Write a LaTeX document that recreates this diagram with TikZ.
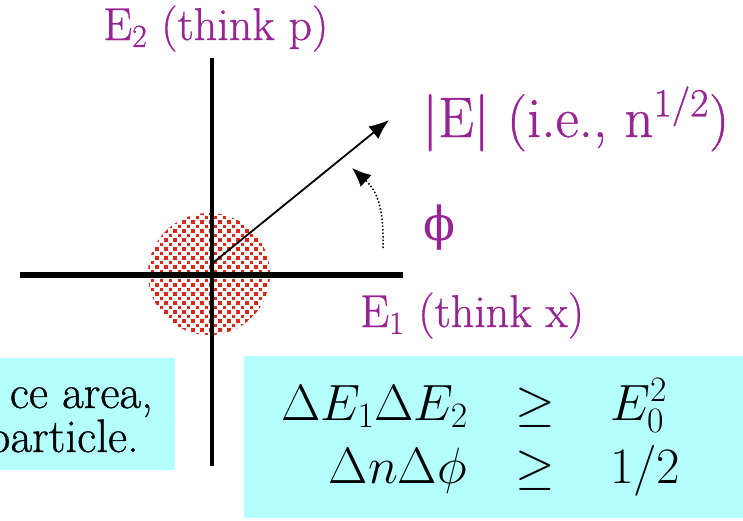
\RequirePackage{fix-cm}
\documentclass[tikz,border=0pt]{standalone}
\usepackage{amsmath,amssymb}
\usepackage{fontspec}
\newfontfamily\phifont{DejaVu Serif}
\newfontfamily\labfont{Latin Modern Roman}[FakeBold=0.7]
\usetikzlibrary{arrows.meta,calc}
\definecolor{labpurple}{RGB}{150,36,146}
\definecolor{boxcyan}{RGB}{180,255,255}
\definecolor{dotred}{RGB}{218,40,22}
\tikzset{
  axisline/.style={line width=4.6pt},
  plabel/.style={text=labpurple, inner sep=0pt, anchor=base west},
  mathtxt/.style={inner sep=0pt, font=\fontsize{51}{60}\selectfont},
}

\begin{document}
\begin{tikzpicture}[x=1pt,y=-1pt]
\path[use as bounding box, clip] (0,0) rectangle (743,520);

% cyan boxes at the bottom
\fill[boxcyan] (-10,358) rectangle (175,470);
\fill[boxcyan] (244,356) rectangle (750,518);

% uncertainty blob
\coordinate (C) at (209,274);
\begin{scope}
  \clip (C) circle (61);
  \foreach \i in {-7,...,7}
    \foreach \j in {-7,...,7} {
      \fill[dotred] ($(C)+(\i*9,\j*9)$) rectangle +(3.9,3.9);
      \fill[dotred] ($(C)+(\i*9+4.5,\j*9+4.5)$) rectangle +(3.9,3.9);
    }
\end{scope}

% axes
\coordinate (xl) at (20,275);
\coordinate (xr) at (403,275);
\coordinate (yt) at (212,58);
\coordinate (yb) at (212,466);
\draw[axisline, line width=5.4pt] (xl) -- (xr);
\draw[axisline] (yt) -- (yb);

% field vector and angle
\coordinate (O) at (214,262);
\coordinate (Etip) at (389,120);
\draw[line width=1.8pt, -{Latex[length=20pt,width=16pt]}] (O) -- (Etip);
\coordinate (phistart) at (383,248);
\coordinate (phiend) at (352,168);
\draw[line width=1.5pt, dash pattern=on 1.5pt off 2pt, -{Latex[length=19pt,width=16pt]}]
  (phistart) .. controls (384,205) and (376,190) .. (phiend);

% labels
\node[plabel, font=\fontsize{46}{54}\selectfont\labfont] (e2lab) at (103,40) {E\textsubscript{2} (think p)};
\node[plabel, font=\fontsize{46}{54}\selectfont\labfont] (e1lab) at (360,327) {E\textsubscript{1} (think x)};
\node[plabel, font=\fontsize{57}{66}\selectfont\labfont] (elab) at (422,137) {|E| (i.e., n\textsuperscript{1/2})};
\node[plabel, font=\fontsize{47}{56}\selectfont\phifont] (philab) at (423,240) {ϕ};

% left box text
\node[inner sep=0pt, anchor=base east, font=\fontsize{47}{54}\selectfont\labfont] (area) at (153,408) {ce area,};
\node[inner sep=0pt, anchor=base east, font=\fontsize{47}{54}\selectfont\labfont] (particle) at (139,452) {particle.};

% uncertainty relations
\node[mathtxt, anchor=base east] (lhsA) at (468,420) {$\Delta E_1\Delta E_2$};
\node[mathtxt, anchor=base] (geqA) at (535,420) {$\geq$};
\node[mathtxt, anchor=base west] (rhsA) at (610,420) {$E_0^2$};
\node[mathtxt, anchor=base east] (lhsB) at (467,483) {$\Delta n\Delta\phi$};
\node[mathtxt, anchor=base] (geqB) at (535,483) {$\geq$};
\node[mathtxt, anchor=base west] (rhsB) at (610,483) {$1/2$};
\end{tikzpicture}
\end{document}
